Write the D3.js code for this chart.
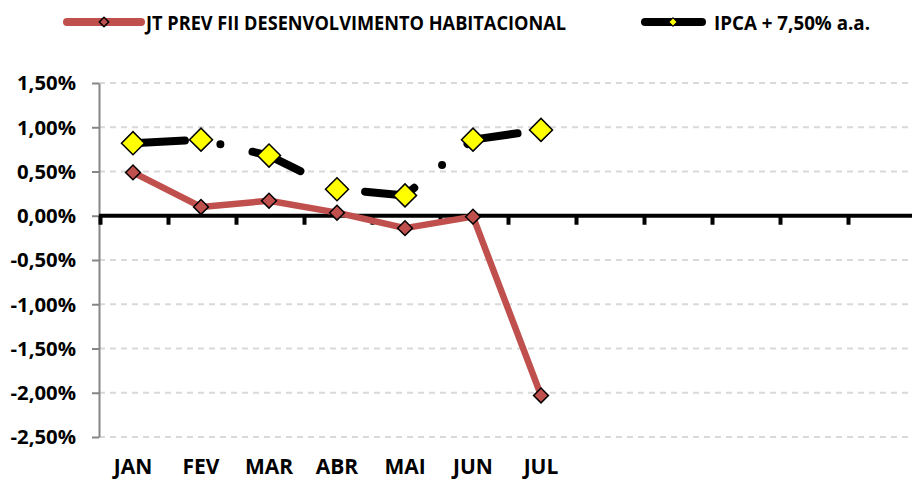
<!DOCTYPE html>
<html>
<head>
<meta charset="utf-8">
<script src="https://cdn.jsdelivr.net/npm/d3@7"></script>
<style>
  body { margin:0; background:#fff; }
  text { font-family:"Open Sans", "Liberation Sans", sans-serif; font-weight:bold; fill:#000; }
</style>
</head>
<body>
<div class="chart"></div>
<script>
// data (% per month)
var monthLabels = ["JAN","FEV","MAR","ABR","MAI","JUN","JUL","","","","",""];
var fundValues  = [0.49, 0.10, 0.17, 0.035, -0.14, -0.01, -2.03];
var ipcaValues  = [0.82, 0.86, 0.68, 0.30, 0.23, 0.86, 0.97];
var yTickValues = [1.5, 1.0, 0.5, 0.0, -0.5, -1.0, -1.5, -2.0, -2.5];
var yTickLabels = ["1,50%","1,00%","0,50%","0,00%","-0,50%","-1,00%","-1,50%","-2,00%","-2,50%"];
var seriesNames = ["JT PREV FII DESENVOLVIMENTO HABITACIONAL","IPCA + 7,50% a.a."];

var width = 912, height = 481;
var svg = d3.select(".chart").append("svg")
  .attr("width", width).attr("height", height);

var x = d3.scaleBand().domain(d3.range(monthLabels.length)).range([99, 915]).padding(0);
var y = d3.scaleLinear().domain([-2.5, 1.5]).range([437, 83]);
var cx = function(d, i){ return x(i) + x.bandwidth()/2; };

// dashed gridlines
svg.append("g").selectAll("line")
  .data(yTickValues.filter(function(v){ return v !== 0; }))
  .enter().append("line")
    .attr("x1", 99).attr("x2", width)
    .attr("y1", function(d){ return y(d); }).attr("y2", function(d){ return y(d); })
    .style("stroke", "#d9d9d9").style("stroke-width", 2)
    .style("stroke-dasharray", "6,5");

// y axis
var yAxis = svg.append("g")
  .attr("transform", "translate(99,0)")
  .call(d3.axisLeft(y).tickValues(yTickValues).tickSize(7).tickSizeOuter(0).tickPadding(16)
    .tickFormat(function(d, i){ return yTickLabels[i]; }));
yAxis.select(".domain").attr("stroke", "#868686").attr("stroke-width", 2);
yAxis.selectAll(".tick line").attr("stroke", "#868686").attr("stroke-width", 2);
yAxis.selectAll("text").style("font-size", "19px").attr("dy", "0.36em");
var k = 59 / yAxis.select("text").node().getComputedTextLength();
yAxis.selectAll("text").each(function(){
  var t = d3.select(this);
  t.attr("textLength", this.getComputedTextLength() * k).attr("lengthAdjust", "spacingAndGlyphs");
});

// zero line with ticks
var zero = svg.append("g");
zero.selectAll("line.tk").data(x.domain()).enter().append("line")
  .attr("class", "tk")
  .attr("x1", function(d){ return x(d) + 1.5; }).attr("x2", function(d){ return x(d) + 1.5; })
  .attr("y1", y(0)).attr("y2", y(0) + 9)
  .style("stroke", "#000").style("stroke-width", 4);
zero.append("line")
  .attr("x1", 99).attr("x2", width).attr("y1", y(0)).attr("y2", y(0))
  .style("stroke", "#000").style("stroke-width", 4);

// month labels
var xAxis = svg.append("g")
  .attr("transform", "translate(0,459)")
  .call(d3.axisBottom(x).tickSize(0).tickFormat(function(d){ return monthLabels[d]; }));
xAxis.select(".domain").remove();
xAxis.selectAll("text").attr("y", 0).attr("dy", "0.71em").style("font-size", "21px");

var line = d3.line().x(cx).y(function(d){ return y(d); });
var diamond = function(size){ return d3.symbol().type(d3.symbolSquare).size(size); };

// fund series
svg.append("path").datum(fundValues)
  .attr("d", line)
  .style("fill", "none").style("stroke", "#C0504D").style("stroke-width", 6.5)
  .style("stroke-linejoin", "round");
svg.append("g").selectAll("path").data(fundValues).enter().append("path")
  .attr("d", diamond(110))
  .attr("transform", function(d, i){ return "translate(" + cx(d, i) + "," + y(d) + ") rotate(45)"; })
  .style("fill", "#C0504D").style("stroke", "#000").style("stroke-width", 1.5);

// benchmark series
svg.append("path").datum(ipcaValues)
  .attr("d", line)
  .style("fill", "none").style("stroke", "#000").style("stroke-width", 8)
  .style("stroke-linecap", "round").style("stroke-linejoin", "round")
  .style("stroke-dasharray", "52,36,0,33");
svg.append("g").selectAll("path").data(ipcaValues).enter().append("path")
  .attr("d", diamond(265))
  .attr("transform", function(d, i){ return "translate(" + cx(d, i) + "," + y(d) + ") rotate(45)"; })
  .style("fill", "#FFFF00").style("stroke", "#000").style("stroke-width", 1.5);

// legend
var legend = svg.append("g");
legend.append("line").attr("x1", 67).attr("x2", 141).attr("y1", 22).attr("y2", 22)
  .style("stroke", "#C0504D").style("stroke-width", 8).style("stroke-linecap", "round");
legend.append("path").attr("d", diamond(45))
  .attr("transform", "translate(104,22) rotate(45)")
  .style("fill", "#C0504D").style("stroke", "#000").style("stroke-width", 1.5);
legend.append("text").attr("x", 146).attr("y", 30).style("font-size", "20px")
  .attr("textLength", 420).attr("lengthAdjust", "spacingAndGlyphs")
  .text(seriesNames[0]);
legend.append("line").attr("x1", 645).attr("x2", 702).attr("y1", 22).attr("y2", 22)
  .style("stroke", "#000").style("stroke-width", 8).style("stroke-linecap", "round");
legend.append("path").attr("d", diamond(36))
  .attr("transform", "translate(673,22) rotate(45)")
  .style("fill", "#FFFF00").style("stroke", "#000").style("stroke-width", 1);
legend.append("text").attr("x", 714).attr("y", 30).style("font-size", "20px")
  .attr("textLength", 156).attr("lengthAdjust", "spacingAndGlyphs")
  .text(seriesNames[1]);
</script>
</body>
</html>
